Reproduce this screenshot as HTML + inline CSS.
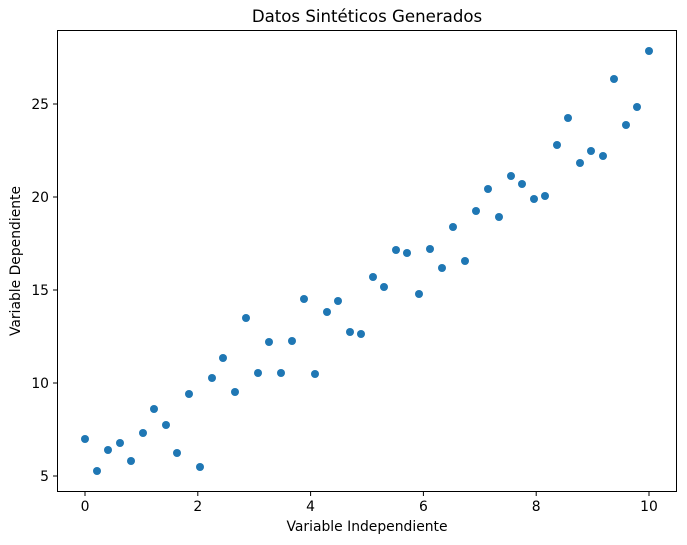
<!DOCTYPE html>
<html><head><style>body{margin:0;background:#fff}svg{display:block}</style></head><body>
<svg width="687" height="545" xmlns="http://www.w3.org/2000/svg" font-family="DejaVu Sans, sans-serif">
<rect x="57.5" y="30.5" width="619" height="461" fill="#fff" stroke="#000" stroke-width="1"/>
<g stroke="#000" stroke-width="1">
<line x1="85" y1="492" x2="85" y2="496"/><line x1="197.8" y1="492" x2="197.8" y2="496"/><line x1="310.6" y1="492" x2="310.6" y2="496"/><line x1="423.4" y1="492" x2="423.4" y2="496"/><line x1="536.2" y1="492" x2="536.2" y2="496"/><line x1="649" y1="492" x2="649" y2="496"/>
<line x1="53" y1="476" x2="57" y2="476"/><line x1="53" y1="383" x2="57" y2="383"/><line x1="53" y1="290" x2="57" y2="290"/><line x1="53" y1="197" x2="57" y2="197"/><line x1="53" y1="104" x2="57" y2="104"/>
</g>
<g font-size="13.9" text-anchor="middle" fill="#000">
<text x="85" y="511">0</text><text x="197.8" y="511">2</text><text x="310.6" y="511">4</text><text x="423.4" y="511">6</text><text x="536.2" y="511">8</text><text x="649" y="511">10</text>
</g>
<g font-size="13.9" text-anchor="end" fill="#000">
<text x="49" y="481">5</text><text x="49" y="388">10</text><text x="49" y="295">15</text><text x="49" y="202">20</text><text x="49" y="109">25</text>
</g>
<text x="367" y="531" font-size="13.9" text-anchor="middle">Variable Independiente</text>
<text transform="translate(20,261) rotate(-90)" font-size="13.9" text-anchor="middle">Variable Dependiente</text>
<text x="367" y="22" font-size="16.6" text-anchor="middle">Datos Sintéticos Generados</text>
<g fill="#1f77b4">
<circle cx="85" cy="439" r="4"/><circle cx="97" cy="471" r="4"/><circle cx="108" cy="450" r="4"/><circle cx="120" cy="443" r="4"/><circle cx="131" cy="461" r="4"/><circle cx="143" cy="433" r="4"/><circle cx="154" cy="409" r="4"/><circle cx="166" cy="425" r="4"/><circle cx="177" cy="453" r="4"/><circle cx="189" cy="394" r="4"/>
<circle cx="200" cy="467" r="4"/><circle cx="212" cy="378" r="4"/><circle cx="223" cy="358" r="4"/><circle cx="235" cy="392" r="4"/><circle cx="246" cy="318" r="4"/><circle cx="258" cy="373" r="4"/><circle cx="269" cy="342" r="4"/><circle cx="281" cy="373" r="4"/><circle cx="292" cy="341" r="4"/><circle cx="304" cy="299" r="4"/>
<circle cx="315" cy="374" r="4"/><circle cx="327" cy="312" r="4"/><circle cx="338" cy="301" r="4"/><circle cx="350" cy="332" r="4"/><circle cx="361" cy="334" r="4"/><circle cx="373" cy="277" r="4"/><circle cx="384" cy="287" r="4"/><circle cx="396" cy="250" r="4"/><circle cx="407" cy="253" r="4"/><circle cx="419" cy="294" r="4"/>
<circle cx="430" cy="249" r="4"/><circle cx="442" cy="268" r="4"/><circle cx="453" cy="227" r="4"/><circle cx="465" cy="261" r="4"/><circle cx="476" cy="211" r="4"/><circle cx="488" cy="189" r="4"/><circle cx="499" cy="217" r="4"/><circle cx="511" cy="176" r="4"/><circle cx="522" cy="184" r="4"/><circle cx="534" cy="199" r="4"/>
<circle cx="545" cy="196" r="4"/><circle cx="557" cy="145" r="4"/><circle cx="568" cy="118" r="4"/><circle cx="580" cy="163" r="4"/><circle cx="591" cy="151" r="4"/><circle cx="603" cy="156" r="4"/><circle cx="614" cy="79" r="4"/><circle cx="626" cy="125" r="4"/><circle cx="637" cy="107" r="4"/><circle cx="649" cy="51" r="4"/>
</g>
</svg>
</body></html>
